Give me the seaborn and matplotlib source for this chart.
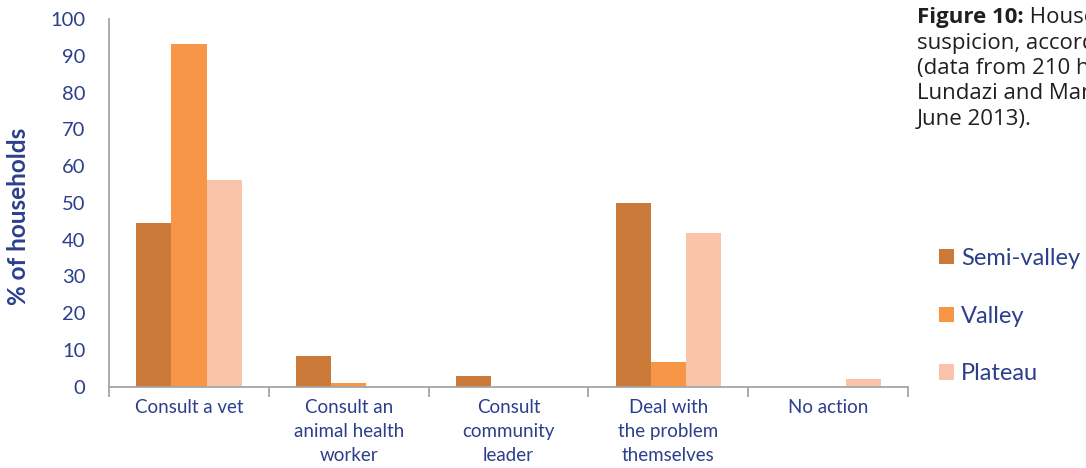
import matplotlib
matplotlib.use("Agg")
import matplotlib.pyplot as plt
import seaborn as sns
import pandas as pd
from matplotlib.patches import Patch

categories = [
    "Consult a vet",
    "Consult an\nanimal health\nworker",
    "Consult\ncommunity\nleader",
    "Deal with\nthe problem\nthemselves",
    "No action",
]
zones = ["Semi-valley", "Valley", "Plateau"]
semi_valley = [44.4, 8.3, 2.8, 50.0, 0.0]
valley = [93.3, 0.9, 0.0, 6.7, 0.0]
plateau = [56.3, 0.0, 0.0, 41.7, 2.1]
yticks = list(range(0, 101, 10))

colors = ["#CB7A3A", "#F79646", "#F9C4A9"]
text_color = "#2B3F8C"
axis_color = "#A6A6A6"

rows = []
for zone, vals in zip(zones, [semi_valley, valley, plateau]):
    for cat, v in zip(categories, vals):
        rows.append({"action": cat, "zone": zone, "pct": v})
df = pd.DataFrame(rows)

sns.set_style("white")
plt.rcParams["font.family"] = ["Lato", "DejaVu Sans"]

fig = plt.figure(figsize=(10.86, 4.68), dpi=100)
ax = fig.add_axes([0.1004, 0.1741, 0.7357, 0.7853])

sns.barplot(data=df, x="action", y="pct", hue="zone", order=categories,
            hue_order=zones, palette=colors, width=0.66, saturation=1,
            edgecolor="none", linewidth=0, legend=False, ax=ax)

ax.set_xlim(-0.5, len(categories) - 0.5)
ax.set_ylim(0, 100)
ax.set_yticks(yticks)
ax.set_yticklabels([str(t) for t in yticks], fontsize=14.5, color=text_color)
ax.set_xticks(range(len(categories)))
ax.set_xticklabels(categories, fontsize=13.5, color=text_color, linespacing=1.5)
ax.set_xticks([i - 0.5 for i in range(len(categories) + 1)], minor=True)
ax.tick_params(axis="x", which="major", length=0, pad=9)
ax.tick_params(axis="x", which="minor", bottom=True, length=7, width=1.3,
               color=axis_color, direction="out")
ax.tick_params(axis="y", length=8, width=1.3, color=axis_color, direction="out", pad=9)

for side in ["top", "right"]:
    ax.spines[side].set_visible(False)
for side in ["left", "bottom"]:
    ax.spines[side].set_color(axis_color)
    ax.spines[side].set_linewidth(1.3)

ax.set_xlabel("")
ax.set_ylabel("% of households", fontsize=17.5, fontweight="bold", color=text_color)
ax.yaxis.set_label_coords(-0.099, 0.463)

handles = [Patch(facecolor=c, edgecolor="none") for c in colors]
fig.legend(handles, zones, loc="upper left", bbox_to_anchor=(0.865, 0.47),
           frameon=False, fontsize=17, labelcolor=text_color,
           handlelength=0.62, handleheight=0.62, handletextpad=0.3,
           labelspacing=1.55, borderaxespad=0, borderpad=0)

caption_lines = [
    ("Figure 10:", " Households' response to disease"),
    ("", "suspicion, according to zone"),
    ("", "(data from 210 households in"),
    ("", "Lundazi and Mambwe districts,"),
    ("", "June 2013)."),
]
cap_font = ["Open Sans", "DejaVu Sans"]
cap_size = 16
cap_x = 0.8444
first_baseline = 1 - 23 / 468
line_step = 25.5 / 468
for i, (bold, rest) in enumerate(caption_lines):
    y = first_baseline - i * line_step
    if bold:
        t = fig.text(cap_x, y, bold, fontsize=cap_size, fontweight="bold", family=cap_font,
                     color="#231F20", va="baseline")
        fig.canvas.draw()
        bb = t.get_window_extent()
        fig.text(bb.x1 / fig.bbox.width, y, rest, fontsize=cap_size, family=cap_font,
                 color="#231F20", va="baseline")
    else:
        fig.text(cap_x, y, rest, fontsize=cap_size, family=cap_font, color="#231F20",
                 va="baseline")

fig.savefig("out.png", dpi=100)
